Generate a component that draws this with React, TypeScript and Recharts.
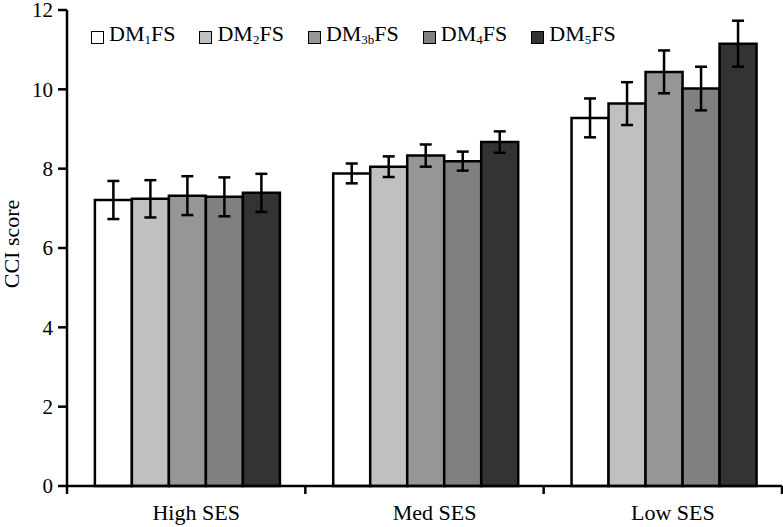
import { BarChart, Bar, XAxis, YAxis, Legend, ErrorBar } from "recharts";

const CATEGORIES = ["High SES", "Med SES", "Low SES"];
const DM1 = [7.21, 7.88, 9.28];
const DM2 = [7.24, 8.05, 9.64];
const DM3B = [7.32, 8.33, 10.44];
const DM4 = [7.29, 8.19, 10.02];
const DM5 = [7.39, 8.67, 11.15];
const DM1_ERR = [0.48, 0.25, 0.49];
const DM2_ERR = [0.47, 0.26, 0.54];
const DM3B_ERR = [0.49, 0.28, 0.54];
const DM4_ERR = [0.49, 0.24, 0.55];
const DM5_ERR = [0.48, 0.27, 0.58];
const Y_TICKS = [0, 2, 4, 6, 8, 10, 12];

const SERIES = [
  { key: "dm1", values: DM1, err: DM1_ERR, label: ["DM", "1", "FS"], color: "#ffffff" },
  { key: "dm2", values: DM2, err: DM2_ERR, label: ["DM", "2", "FS"], color: "#c0c0c0" },
  { key: "dm3b", values: DM3B, err: DM3B_ERR, label: ["DM", "3b", "FS"], color: "#969696" },
  { key: "dm4", values: DM4, err: DM4_ERR, label: ["DM", "4", "FS"], color: "#808080" },
  { key: "dm5", values: DM5, err: DM5_ERR, label: ["DM", "5", "FS"], color: "#333333" },
];

const data = CATEGORIES.map((name, i) => {
  const row: Record<string, any> = { name };
  SERIES.forEach((s) => {
    row[s.key] = s.values[i];
    row[s.key + "Err"] = s.err[i];
  });
  return row;
});

const FONT = "Liberation Serif, Times New Roman, Times, serif";
const WIDTH = 783;
const HEIGHT = 527;
const MARGIN = { top: 10, right: 1, bottom: 0, left: 0 };
const Y_WIDTH = 67;
const HALF_BAND = (WIDTH - MARGIN.right - Y_WIDTH) / CATEGORIES.length / 2;

function CategoryTick({ x, y, payload, index }: any) {
  return (
    <g>
      {index === 0 && (
        <line x1={x - HALF_BAND} x2={x - HALF_BAND} y1={y} y2={y + 8} stroke="#000" strokeWidth={2.5} />
      )}
      <line x1={x + HALF_BAND} x2={x + HALF_BAND} y1={y} y2={y + 8} stroke="#000" strokeWidth={2.5} />
      <text x={x + 10} y={y + 34} textAnchor="middle" fontSize={22} fontFamily={FONT} fill="#000">
        {payload.value}
      </text>
    </g>
  );
}

function LegendContent() {
  return (
    <div style={{ display: "flex", gap: 24, fontFamily: FONT, fontSize: 22, color: "#000", lineHeight: "24px" }}>
      {SERIES.map((s) => (
        <div key={s.key} style={{ display: "flex", alignItems: "center", gap: 5 }}>
          <span
            style={{
              display: "inline-block",
              width: 11,
              height: 11,
              background: s.color,
              border: "1.5px solid #000",
            }}
          />
          <span>
            {s.label[0]}
            <sub style={{ fontSize: 13, verticalAlign: "-3px" }}>{s.label[1]}</sub>
            {s.label[2]}
          </span>
        </div>
      ))}
    </div>
  );
}

export default function App() {
  return (
    <div style={{ position: "absolute", left: 0, top: 0, width: WIDTH, height: HEIGHT, background: "#fff" }}>
      <BarChart width={WIDTH} height={HEIGHT} data={data} margin={MARGIN} barGap={0} barCategoryGap="11.7%">
        <XAxis
          dataKey="name"
          height={41}
          axisLine={{ stroke: "#000", strokeWidth: 2.5 }}
          tickLine={false}
          tickSize={0}
          tickMargin={0}
          tick={<CategoryTick />}
          interval={0}
        />
        <YAxis
          width={Y_WIDTH}
          domain={[0, 12]}
          ticks={Y_TICKS}
          interval={0}
          axisLine={{ stroke: "#000", strokeWidth: 2.5 }}
          tickLine={{ stroke: "#000", strokeWidth: 2.5 }}
          tickSize={9}
          tickMargin={5}
          tick={{ fill: "#000", fontSize: 21, fontFamily: FONT }}
          label={{
            value: "CCI score",
            angle: -90,
            position: "insideLeft",
            dx: 6,
            dy: -4,
            style: { textAnchor: "middle", fill: "#000", fontSize: 22, fontFamily: FONT },
          }}
        />
        <Legend
          layout="horizontal"
          verticalAlign="middle"
          align="center"
          content={<LegendContent />}
          wrapperStyle={{ position: "absolute", top: 22, left: 91, width: "auto" }}
        />
        {SERIES.map((s) => (
          <Bar key={s.key} dataKey={s.key} fill={s.color} stroke="#000" strokeWidth={2.5} isAnimationActive={false}>
            <ErrorBar dataKey={s.key + "Err"} width={6} stroke="#000" strokeWidth={2.5} isAnimationActive={false} />
          </Bar>
        ))}
      </BarChart>
    </div>
  );
}
